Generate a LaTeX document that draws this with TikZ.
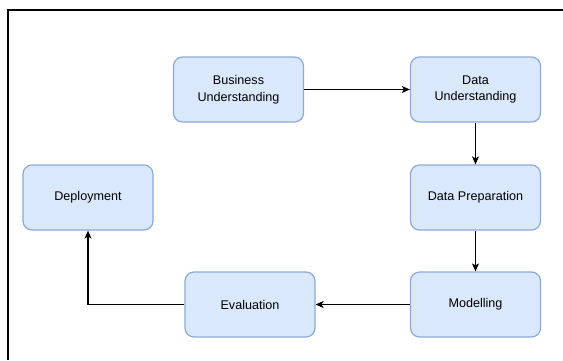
\documentclass[tikz,border=0pt]{standalone}
\usepackage{fontspec}
\setmainfont{Liberation Sans}
\usetikzlibrary{arrows.meta}
\definecolor{boxfill}{HTML}{DAE8FC}
\definecolor{boxline}{HTML}{8DAAD6}
\begin{document}
\begin{tikzpicture}[x=1pt,y=-1pt,
  stagebox/.style={draw=boxline, fill=boxfill, line width=1.2pt, rounded corners=9pt,
    minimum width=130pt, minimum height=65pt, inner sep=0pt, align=center,
    font=\fontsize{12.6pt}{16.5pt}\selectfont, text=black},
  flow/.style={line width=1.1pt, -{Stealth[length=8pt,width=7pt,inset=2pt]}}]
\useasboundingbox (0,0) rectangle (563,360);
\draw[line width=2pt] (8,360) -- (8,10) -- (563,10);
\node[stagebox] (bu)  at (238.5,89.5)  {Business\\Understanding};
\node[stagebox] (du)  at (475.5,89.5)  {Data\\Understanding};
\node[stagebox] (dp)  at (475.5,197.5) {Data Preparation};
\node[stagebox] (dep) at (88,197.5)    {Deployment};
\node[stagebox] (ev)  at (250,304.5)   {Evaluation};
\node[stagebox] (mo)  at (475.5,304.5) {Modelling};
\draw[flow] (bu) -- (du);
\draw[flow] (du) -- (dp);
\draw[flow] (dp) -- (mo);
\draw[flow] (mo) -- (ev);
\draw[flow] (ev.west) -| (dep.south);
\end{tikzpicture}
\end{document}
